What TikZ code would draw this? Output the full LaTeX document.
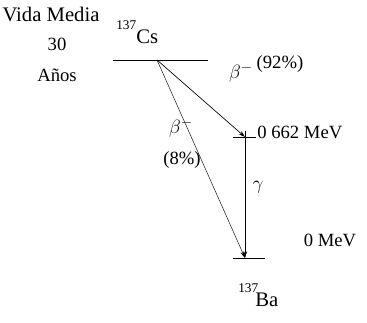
\documentclass[tikz,border=0pt]{standalone}
\usepackage{fontspec}
\setmainfont{Liberation Serif}
\usetikzlibrary{arrows.meta}
\begin{document}
\begin{tikzpicture}[x=0.75pt,y=-0.75pt,
  lbl/.style={inner sep=0pt,font=\fontsize{14}{16}\selectfont},
  big/.style={inner sep=0pt,font=\fontsize{15.5}{17}\selectfont},
  lvl/.style={line width=0.7pt},
  trans/.style={line width=0.5pt,-{Stealth[length=5pt,width=3pt]}},
  faint/.style={line width=0.35pt,-{Stealth[length=5pt,width=3pt]}}]
\useasboundingbox (0,0) rectangle (367,323);
\node[big] (vm) at (51,14) {Vida Media};
\node[lbl] (t30) at (57,44) {30};
\node[lbl] (an) at (57,75) {Años};
\node[lbl,anchor=base west] (iso1) at (116,30) {\fontsize{10}{12}\selectfont 137};
\node[big,anchor=base west] (cs) at (136,44) {Cs};
\coordinate (L1a) at (113,60);
\coordinate (L1b) at (208,60);
\draw[lvl] (L1a) -- (L1b);
\coordinate (O) at (157,60);
\coordinate (M) at (245,137);
\coordinate (Mt) at (245,131);
\coordinate (Ma) at (233,137);
\coordinate (Mb) at (256,137);
\draw[line width=0.4pt] (Ma) -- (Mb);
\node[lbl,anchor=base west] (mev1) at (257,139) {0 662 MeV};
\coordinate (B) at (245,258);
\coordinate (Ba) at (233,258);
\coordinate (Bb) at (265,258);
\draw[lvl] (Ba) -- (Bb);
\draw[trans] (O) -- (M);
\draw[faint] (Mt) -- (B);
\draw[faint] (O) -- (B);
\node[big] (b92) at (241,73) {$\beta^-$};
\node[lbl] (p92) at (280,64) {(92\%)};
\node[big] (b8) at (181,128) {$\beta^-$};
\node[lbl] (p8) at (182,160) {(8\%)};
\node[big] (g) at (258,187) {$\gamma$};
\node[lbl] (mev0) at (330,240) {0 MeV};
\node[lbl,anchor=base west] (iso2) at (238,293) {\fontsize{10}{12}\selectfont 137};
\node[big,anchor=base west] (ba) at (255,307) {Ba};
\end{tikzpicture}
\end{document}
